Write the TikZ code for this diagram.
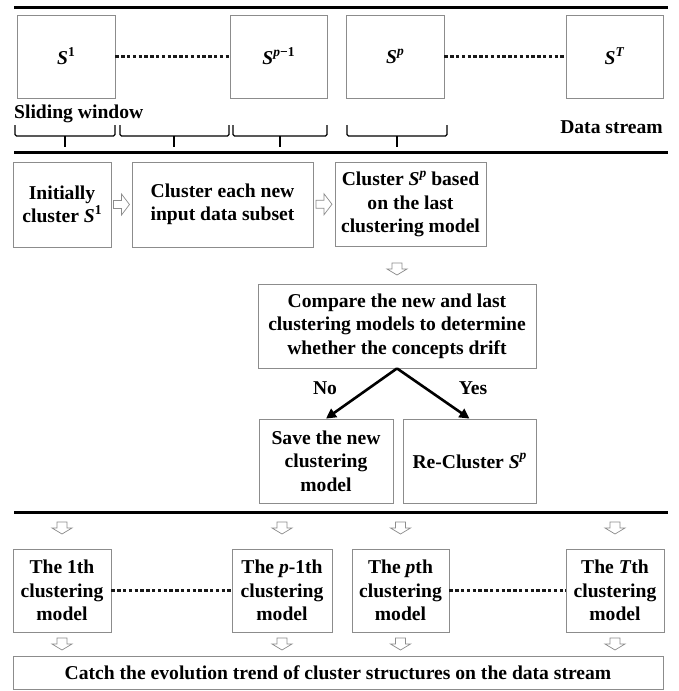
\documentclass[tikz,border=0pt]{standalone}
\usepackage{fontspec}
\setmainfont{Liberation Serif}
\usetikzlibrary{calc,arrows.meta}
\newcommand{\Sup}[1]{\raisebox{0.42em}{\fontsize{13.5}{13.5}\selectfont #1}}
\newcommand{\Sit}{\textit{S}}
\begin{document}
\begin{tikzpicture}[x=1pt,y=-1pt,
  box/.style={draw=black!45, line width=0.8pt, fill=white, align=center, inner sep=2pt, font=\bfseries\fontsize{19.6}{23.5}\selectfont},
  rule/.style={line width=3pt, black},
  dots/.style={line width=3.4pt, dash pattern=on 3.4pt off 2.4pt, black!90},
  bracket/.style={line width=1.2pt, rounded corners=1.5pt},
  decision/.style={line width=2.6pt, -{Triangle[length=10pt,width=10pt]}},
  lbl/.style={font=\bfseries\fontsize{19.6}{23.5}\selectfont, inner sep=0pt},
  hollowdown/.pic={\draw[black!45, line width=0.7pt, fill=white] (-5,0) -- (5,0) -- (5,6) -- (10,6) -- (0,12) -- (-10,6) -- (-5,6) -- cycle;},
  hollowright/.pic={\draw[black!45, line width=0.7pt, fill=white] (-8,-4) -- (0,-4) -- (0,-10.5) -- (8,0) -- (0,10.5) -- (0,4) -- (-8,4) -- cycle;},
]
\useasboundingbox (0,0) rectangle (679,691);

% rules
\draw[rule] (14,7) -- (668,7);
\draw[rule] (14,152) -- (668,152);
\draw[rule] (14,512) -- (668,512);

% data stream row
\node[box, minimum width=98pt, minimum height=83pt] (s1) at (66,56.5) {\Sit\Sup{1}};
\node[box, minimum width=97pt, minimum height=83pt] (sp1) at (278.5,56.5) {\Sit\Sup{\textit{p}−1}};
\node[box, minimum width=98pt, minimum height=83pt] (sp) at (395,56.5) {\Sit\Sup{\textit{p}}};
\node[box, minimum width=97pt, minimum height=83pt] (sT) at (614.5,56.5) {\Sit\Sup{\textit{T}}};
\draw[dots] (s1.east) -- (sp1.west);
\draw[dots] (sp.east) -- (sT.west);

\node[lbl, anchor=base west] (slw) at (14,118) {Sliding window};
\node[lbl, anchor=base east] (dst) at (663,133) {Data stream};

% brackets
\draw[bracket] (15,125) -- (15,136) -- (115,136) -- (115,125);
\draw[bracket] (65,136) -- (65,147);
\draw[bracket] (120,125) -- (120,136) -- (229,136) -- (229,125);
\draw[bracket] (174,136) -- (174,147);
\draw[bracket] (233,125) -- (233,136) -- (327,136) -- (327,125);
\draw[bracket] (280,136) -- (280,147);
\draw[bracket] (347,125) -- (347,136) -- (447,136) -- (447,125);
\draw[bracket] (397,136) -- (397,147);

% processing row
\node[box, minimum width=98pt, minimum height=85pt] (b1) at (62,204.5) {Initially\\cluster \Sit\Sup{1}};
\node[box, minimum width=181pt, minimum height=85pt] (b2) at (222.5,204.5) {Cluster each new\\input data subset};
\node[box, minimum width=151pt, minimum height=84pt] (b3) at (410.5,204) {Cluster \Sit\Sup{\textit{p}} based\\on the last\\clustering model};
\pic at ($(b1.east)!0.5!(b2.west)$) {hollowright};
\pic at ($(b2.east)!0.5!(b3.west)$) {hollowright};

\node[box, minimum width=278pt, minimum height=84pt] (cmp) at (397,326) {Compare the new and last\\clustering models to determine\\whether the concepts drift};
\pic at ($(b3.south -| cmp.north)!0.5!(cmp.north)+(0,-2)$) {hollowdown};

\node[box, minimum width=134pt, minimum height=84pt] (save) at (326,461) {Save the new\\clustering\\model};
\node[box, minimum width=133pt, minimum height=84pt] (re) at (469.5,461) {Re-Cluster \Sit\Sup{\textit{p}}};
\draw[decision] (cmp.south) -- (save.north);
\draw[decision] (cmp.south) -- (re.north);
\node[lbl] (no) at (325,388) {No};
\node[lbl] (yes) at (473,388) {Yes};

% model row
\node[box, minimum width=98pt, minimum height=83pt] (m1) at (62,590.5) {The 1th\\clustering\\model};
\node[box, minimum width=100pt, minimum height=83pt] (mp1) at (282,590.5) {The \textit{p}-1th\\clustering\\model};
\node[box, minimum width=97pt, minimum height=83pt] (mp) at (400.5,590.5) {The \textit{p}th\\clustering\\model};
\node[box, minimum width=98pt, minimum height=83pt] (mT) at (615,590.5) {The \textit{T}th\\clustering\\model};
\draw[dots] (m1.east) -- (mp1.west);
\draw[dots] (mp.east) -- (mT.west);

\node[box, minimum width=650pt, minimum height=33pt] (bot) at (338,672.5) {Catch the evolution trend of cluster structures on the data stream};

\foreach \m in {m1,mp1,mp,mT}{
  \pic at (\m.north |- 0,522) {hollowdown};
  \pic at ($(\m.south)!0.5!(\m.south |- bot.north)+(0,-6)$) {hollowdown};
}
\end{tikzpicture}
\end{document}
